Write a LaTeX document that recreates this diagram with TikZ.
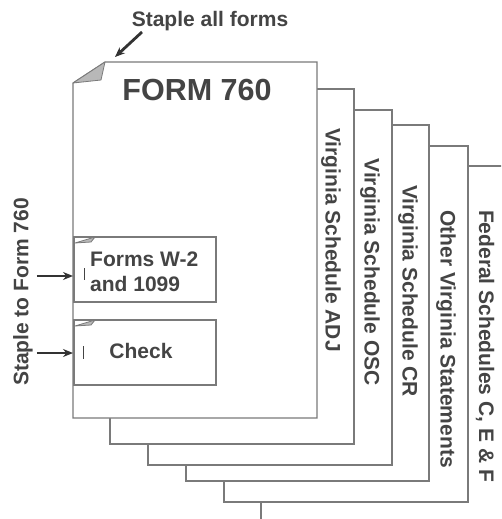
\documentclass[tikz,border=0pt]{standalone}
\usepackage{fontspec}
\setmainfont{Liberation Sans}
\usetikzlibrary{arrows.meta}
\definecolor{inkgray}{HTML}{444444}
\definecolor{linegray}{HTML}{7A7A7A}
\definecolor{foldgray}{HTML}{B8B8B8}
\definecolor{arrowgray}{HTML}{333333}
\tikzset{
	page/.style={fill=white, draw=linegray, line width=1.1pt},
	fold/.style={fill=foldgray, draw=linegray, line width=0.8pt, line join=round},
	label/.style={text=inkgray, font=\fontsize{21}{25}\selectfont\bfseries, inner sep=0pt},
	sidelabel/.style={label, rotate=-90},
	pointer/.style={draw=arrowgray, line width=2.8pt, -{Stealth[length=10pt, width=8pt]}},
	staplemark/.style={draw=inkgray, line width=1pt}
}
\begin{document}
\begin{tikzpicture}[x=1pt, y=-1pt]
		\clip (0, 0) rectangle (501, 519);
		\fill[white] (0, 0) rectangle (501, 519);
		\filldraw[page] (261, 166) rectangle (530, 540);
		\filldraw[page] (224, 146) rectangle (468, 502);
		\filldraw[page] (186, 125) rectangle (429, 481);
		\filldraw[page] (148, 110) rectangle (392, 465);
		\filldraw[page] (110, 89) rectangle (354, 444);
		\filldraw[page] (73, 418) -- (73, 83) -- (105, 62) -- (317, 62) -- (317, 418) -- cycle;
		\filldraw[fold] (73, 83) -- (105, 62) -- (101, 80) -- cycle;
		\node[label, font=\fontsize{30.5}{30.5}\selectfont\bfseries] (form) at (197, 90) {FORM 760};
		\node[sidelabel] (adj) at (331, 240) {Virginia Schedule ADJ};
		\node[sidelabel] (osc) at (370, 272) {Virginia Schedule OSC};
		\node[sidelabel] (cr) at (408, 291) {Virginia Schedule CR};
		\node[sidelabel] (other) at (446, 339) {Other Virginia Statements};
		\node[sidelabel] (federal) at (485, 346) {Federal Schedules C, E \& F};
		\filldraw[page] (74, 237) rectangle (216, 302);
		\filldraw[fold] (75, 243) -- (95, 237) -- (91, 242) -- cycle;
		\node[label, anchor=north west, align=left] (wtwo) at (90, 252) {Forms W-2\\and 1099};
		\draw[staplemark] (84, 268) -- (84, 280);
		\filldraw[page] (74, 320) rectangle (216, 385);
		\filldraw[fold] (75, 326) -- (95, 320) -- (91, 325) -- cycle;
		\node[label] (check) at (141, 351) {Check};
		\draw[staplemark] (83, 346) -- (83, 359);
		\node[label] (stapleall) at (210, 21) {Staple all forms};
		\coordinate (cornertip) at (115, 57);
		\draw[pointer] (142, 32) -- (cornertip);
		\node[label, rotate=90] (stapleto) at (23, 292) {Staple to Form 760};
		\coordinate (wtwotip) at (73, 276);
		\coordinate (checktip) at (73, 353);
		\draw[pointer] (stapleto.south |- wtwotip) ++(4, 0) -- (wtwotip);
		\draw[pointer] (stapleto.south |- checktip) ++(4, 0) -- (checktip);
		\end{tikzpicture}
\end{document}
